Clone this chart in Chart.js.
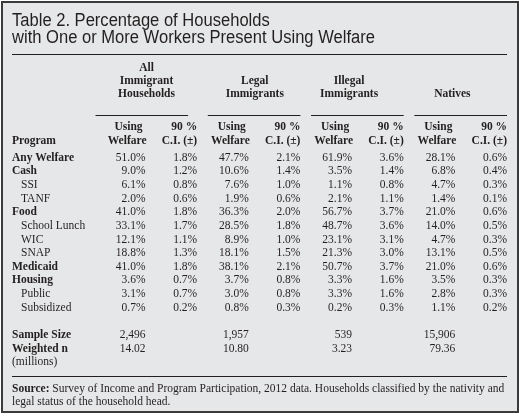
<!DOCTYPE html>
<html>
<head>
<meta charset="utf-8">
<script src="https://cdn.jsdelivr.net/npm/chart.js@4.4.1/dist/chart.umd.min.js"></script>
<style>
  html, body { margin: 0; padding: 0; background: #fff; }
  #wrap { width: 519px; height: 417px; position: relative; }
</style>
</head>
<body>
<div id="wrap"><canvas id="table-chart"></canvas></div>
<script>
// table data
const programs = ['Any Welfare', 'Cash', 'SSI', 'TANF', 'Food', 'School Lunch', 'WIC', 'SNAP', 'Medicaid', 'Housing', 'Public', 'Subsidized'];
const subPrograms = ['SSI', 'TANF', 'School Lunch', 'WIC', 'SNAP', 'Public', 'Subsidized'];
const groups = [['All', 'Immigrant', 'Households'], ['Legal', 'Immigrants'], ['Illegal', 'Immigrants'], ['Natives']];

const allUsing = [51.0, 9.0, 6.1, 2.0, 41.0, 33.1, 12.1, 18.8, 41.0, 3.6, 3.1, 0.7];
const allCI = [1.8, 1.2, 0.8, 0.6, 1.8, 1.7, 1.1, 1.3, 1.8, 0.7, 0.7, 0.2];
const legalUsing = [47.7, 10.6, 7.6, 1.9, 36.3, 28.5, 8.9, 18.1, 38.1, 3.7, 3.0, 0.8];
const legalCI = [2.1, 1.4, 1.0, 0.6, 2.0, 1.8, 1.0, 1.5, 2.1, 0.8, 0.8, 0.3];
const illegalUsing = [61.9, 3.5, 1.1, 2.1, 56.7, 48.7, 23.1, 21.3, 50.7, 3.3, 3.3, 0.2];
const illegalCI = [3.6, 1.4, 0.8, 1.1, 3.7, 3.6, 3.1, 3.0, 3.7, 1.6, 1.6, 0.3];
const nativesUsing = [28.1, 6.8, 4.7, 1.4, 21.0, 14.0, 4.7, 13.1, 21.0, 3.5, 2.8, 1.1];
const nativesCI = [0.6, 0.4, 0.3, 0.1, 0.6, 0.5, 0.3, 0.5, 0.6, 0.3, 0.3, 0.2];

const sampleSize = [2496, 1957, 539, 15906];
const weightedN = [14.02, 10.80, 3.23, 79.36];

const INK = '#231f20';
const SERIF = '"Liberation Serif", "Times New Roman", serif';
const SANS = '"Liberation Sans", Arial, sans-serif';
const FS = '11.5px ';

// each column becomes one dataset; x = column index, y = row index
const usingCols = [allUsing, legalUsing, illegalUsing, nativesUsing];
const ciCols = [allCI, legalCI, illegalCI, nativesCI];
const datasets = [];
usingCols.forEach((vals, g) => {
  const pts = vals.map((v, i) => ({ x: g * 2, y: i, text: v.toFixed(1) + '%' }));
  pts.push({ x: g * 2, y: programs.length + 1, text: sampleSize[g].toLocaleString('en-US') });
  pts.push({ x: g * 2, y: programs.length + 2, text: weightedN[g].toFixed(2) });
  datasets.push({ label: 'using' + g, data: pts });
  datasets.push({ label: 'ci' + g, data: ciCols[g].map((v, i) => ({ x: g * 2 + 1, y: i, text: v.toFixed(1) + '%' })) });
});

const tablePlugin = {
  id: 'tablePlugin',
  beforeDraw(chart) {
    const ctx = chart.ctx;
    ctx.save();
    ctx.fillStyle = '#fff';
    ctx.fillRect(0, 0, chart.width, chart.height);
    ctx.fillStyle = '#e6e7e8';
    ctx.fillRect(2, 2, 516, 410);
    ctx.strokeStyle = '#3a3a3a';
    ctx.lineWidth = 2;
    ctx.strokeRect(2, 2, 516, 410);
    ctx.restore();
  },
  afterDatasetsDraw(chart) {
    const ctx = chart.ctx;
    const xs = chart.scales.x;
    const ys = chart.scales.y;
    const area = chart.chartArea;
    ctx.save();
    ctx.fillStyle = INK;
    ctx.strokeStyle = INK;

    // title, slightly condensed
    ctx.save();
    ctx.font = '18px ' + SANS;
    ctx.textAlign = 'left';
    ctx.translate(12, 0);
    ctx.scale(0.92, 1);
    ctx.fillText('Table 2. Percentage of Households', 0, 26);
    ctx.fillText('with One or More Workers Present Using Welfare', 0, 43);
    ctx.restore();

    ctx.lineWidth = 1;
    ctx.beginPath();
    ctx.moveTo(12, 54.5); ctx.lineTo(area.right, 54.5);
    ctx.moveTo(12, 376.5); ctx.lineTo(area.right, 376.5);
    ctx.stroke();

    // group headers
    ctx.font = 'bold ' + FS + SERIF;
    groups.forEach((lines, g) => {
      const xu = xs.getPixelForValue(g * 2);
      const xc = xs.getPixelForValue(g * 2 + 1);
      const cx = g === 0 ? xu + 1 : (g === 1 ? xu + 6 : xu - 3);
      ctx.textAlign = 'center';
      lines.forEach((t, k) => {
        const row = 3 - lines.length + k;
        ctx.fillText(t, cx, 71 + row * 13);
      });
      const x0 = g === 0 ? xu - 50 : xu - 41;
      const x1 = g === 0 ? xc - 9 : xc;
      ctx.beginPath();
      ctx.moveTo(x0, 115.5); ctx.lineTo(x1, 115.5);
      ctx.stroke();
      // sub headers
      ctx.fillText('Using', xu - 17, 130);
      ctx.textAlign = 'right';
      ctx.fillText('Welfare', xu + 1, 144);
      ctx.fillText('90 %', xc, 130);
      ctx.fillText('C.I. (\u00b1)', xc, 144);
    });
    ctx.textAlign = 'left';
    ctx.fillText('Program', 12, 144);

    // row labels
    programs.forEach((p, i) => {
      const sub = subPrograms.includes(p);
      ctx.font = (sub ? '' : 'bold ') + FS + SERIF;
      ctx.fillText(p, sub ? 21 : 12, ys.getPixelForValue(i) + 4);
    });
    ctx.font = 'bold ' + FS + SERIF;
    ctx.fillText('Sample Size', 12, ys.getPixelForValue(programs.length + 1) + 4);
    ctx.fillText('Weighted n', 12, ys.getPixelForValue(programs.length + 2) + 4);
    ctx.font = FS + SERIF;
    ctx.fillText('(millions)', 12, ys.getPixelForValue(programs.length + 3) + 4);

    // cell values
    ctx.font = FS + SERIF;
    ctx.textAlign = 'right';
    chart.data.datasets.forEach((ds, d) => {
      chart.getDatasetMeta(d).data.forEach((pt, i) => {
        ctx.fillText(ds.data[i].text, pt.x, pt.y + 4);
      });
    });

    // source note
    ctx.textAlign = 'left';
    ctx.font = 'bold ' + FS + SERIF;
    ctx.fillText('Source:', 12, 392);
    const w = ctx.measureText('Source: ').width;
    ctx.font = FS + SERIF;
    ctx.fillText('Survey of Income and Program Participation, 2012 data. Households classified by the nativity and', 12 + w, 392, area.right - 12 - w);
    ctx.fillText('legal status of the household head.', 12, 405);
    ctx.restore();
  }
};

new Chart(document.getElementById('table-chart'), {
  type: 'scatter',
  data: { datasets },
  options: {
    responsive: true,
    maintainAspectRatio: false,
    animation: false,
    events: [],
    layout: { padding: { left: 145.5, right: 12, top: 156.7, bottom: 55.7 } },
    elements: { point: { radius: 0, hoverRadius: 0 } },
    scales: {
      x: { type: 'linear', min: 0, max: 7, display: false },
      y: { type: 'linear', min: 0, max: 15, reverse: true, display: false }
    },
    plugins: { legend: { display: false }, tooltip: { enabled: false } }
  },
  plugins: [tablePlugin]
});
</script>
</body>
</html>
